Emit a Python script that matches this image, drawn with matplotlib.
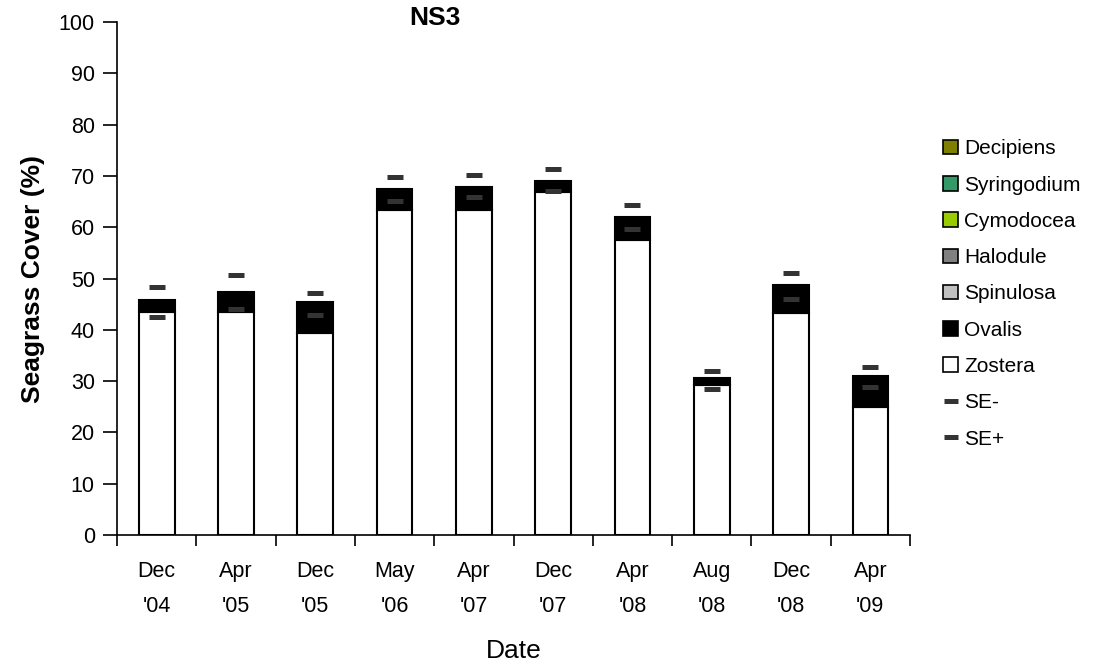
import matplotlib
matplotlib.use("Agg")
import matplotlib.pyplot as plt
from matplotlib.patches import Patch
from matplotlib.lines import Line2D

plt.rcParams['font.family'] = ['Liberation Sans', 'DejaVu Sans']

dates = ["Dec\n'04", "Apr\n'05", "Dec\n'05", "May\n'06", "Apr\n'07",
         "Dec\n'07", "Apr\n'08", "Aug\n'08", "Dec\n'08", "Apr\n'09"]
zostera = [43.5, 43.5, 39.4, 63.4, 63.4, 66.9, 57.5, 29.2, 43.3, 25.0]
ovalis = [2.3, 3.9, 6.0, 4.0, 4.4, 2.1, 4.5, 1.4, 5.4, 6.0]
se_minus = [42.5, 44.0, 42.9, 65.1, 65.9, 67.1, 59.6, 28.5, 46.0, 28.9]
se_plus = [48.3, 50.7, 47.2, 69.8, 70.2, 71.3, 64.3, 32.0, 51.1, 32.7]

species = ["Decipiens", "Syringodium", "Cymodocea", "Halodule", "Spinulosa", "Ovalis", "Zostera"]
species_colors = ["#808000", "#339966", "#99CC00", "#808080", "#C0C0C0", "#000000", "#FFFFFF"]

fig = plt.figure(figsize=(11.06, 6.71), dpi=100)
ax = fig.add_axes([0.1058, 0.2027, 0.717, 0.7643])

x = list(range(len(dates)))
ax.bar(x, zostera, width=0.45, color="white", edgecolor="black", linewidth=1.5)
ax.bar(x, ovalis, width=0.45, bottom=zostera, color="black", edgecolor="black", linewidth=1.5)
ax.plot(x, se_minus, linestyle="none", marker="_", ms=11.5, mew=3.6, color="#333333")
ax.plot(x, se_plus, linestyle="none", marker="_", ms=11.5, mew=3.6, color="#333333")

ax.set_xlim(-0.5, len(dates) - 0.5)
ax.set_ylim(0, 100)
ax.set_yticks(range(0, 101, 10))
ax.tick_params(axis="y", labelsize=15.5, length=10, width=1.2, direction="out", pad=6)
ax.set_xticks([i - 0.5 for i in range(len(dates) + 1)])
ax.set_xticklabels([])
ax.tick_params(axis="x", which="major", length=8, width=1.2, direction="out")
ax.set_xticks(x, minor=True)
ax.set_xticklabels(dates, minor=True, fontsize=15.5, linespacing=1.85)
ax.tick_params(axis="x", which="minor", length=0, pad=19)
for s in ["top", "right"]:
    ax.spines[s].set_visible(False)
for s in ["left", "bottom"]:
    ax.spines[s].set_linewidth(1.2)

ax.set_ylabel("Seagrass Cover (%)", fontsize=19, fontweight="bold", labelpad=10)
ax.set_xlabel("Date", fontsize=19, labelpad=16)
fig.text(0.393, 0.963, "NS3", fontsize=19, fontweight="bold", ha="center", va="baseline")

handles = [Patch(facecolor=c, edgecolor="black", linewidth=1.2) for c in species_colors]
handles += [Line2D([], [], linestyle="none", marker="_", ms=10, mew=3.6, color="#333333")] * 2
labels = species + ["SE-", "SE+"]
fig.legend(handles, labels, loc="center left", bbox_to_anchor=(0.836, 0.562), frameon=False,
           fontsize=15, handlelength=0.7, handleheight=0.7, handletextpad=0.3, labelspacing=0.83)

fig.savefig("out.png", dpi=100)
